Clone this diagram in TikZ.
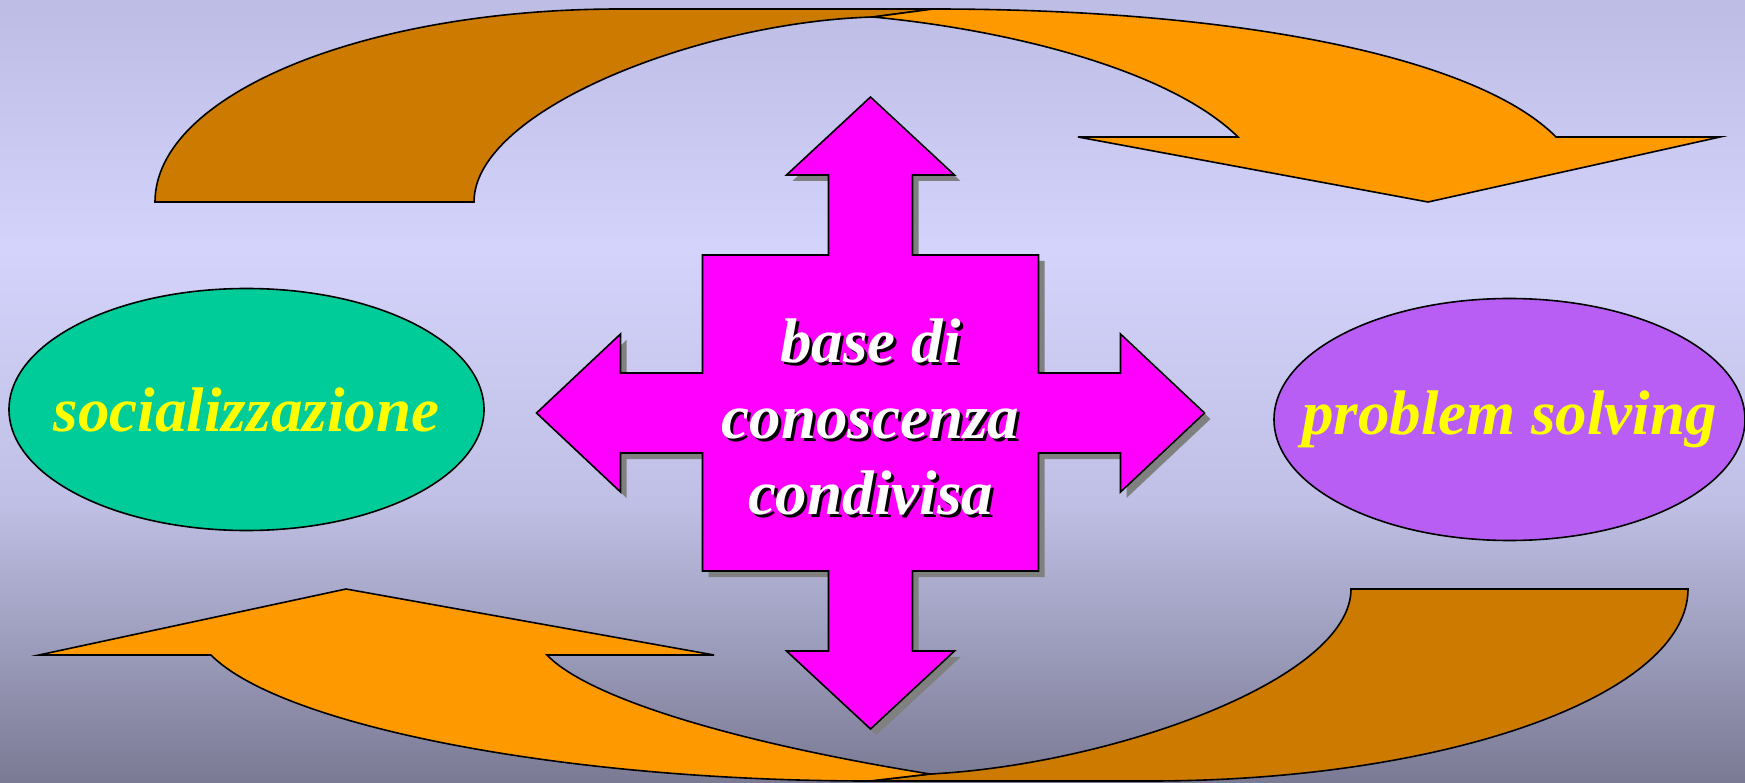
\documentclass[tikz,border=0pt]{standalone}
\usepackage{fontspec}
\setmainfont{Liberation Serif}
\usepackage{tikz}
\usepackage{xcolor}
\usetikzlibrary{shapes.geometric,shadows}

\definecolor{bgtop}{RGB}{188,188,228}
\definecolor{bgmid}{RGB}{211,211,251}
\definecolor{bglow}{RGB}{192,192,230}
\definecolor{bgbot}{RGB}{122,122,148}
\definecolor{darkband}{RGB}{204,122,0}
\definecolor{lightband}{RGB}{255,153,0}
\definecolor{kbmagenta}{RGB}{255,0,255}
\definecolor{kbshadow}{RGB}{128,128,128}
\definecolor{socgreen}{RGB}{0,204,153}
\definecolor{psviolet}{RGB}{185,94,245}
\definecolor{labelyellow}{RGB}{255,255,0}

\newcommand{\bigital}{\fontsize{63}{76}\selectfont\bfseries\itshape}

\begin{document}
\begin{tikzpicture}[x=1pt,y=-1pt,
    band/.style={draw=black,line width=1.6pt},
    bubble/.style={ellipse,draw=black,line width=1.6pt,inner sep=0pt},
    bubbletext/.style={text=labelyellow,font=\bigital},
    kbtext/.style={align=center,font=\bigital}]
            \useasboundingbox (0,0) rectangle (1745,783);
            \shade[top color=bgtop,bottom color=bgmid] (0,0) rectangle (1745,251);
            \shade[top color=bgmid,bottom color=bglow] (0,250) rectangle (1745,501);
            \shade[top color=bglow,bottom color=bgbot] (0,500) rectangle (1745,783);

            % upper curved arrow
            \draw[band,fill=darkband] (155,202) .. controls (155,95) and (363,9) .. (620,9)
                -- (933,9) -- (873,17) .. controls (700,22) and (474,110) .. (474,202) -- cycle;
            \draw[band,fill=lightband] (873,17) -- (933,9) .. controls (1250,9) and (1480,60) .. (1556,137)
                -- (1720,137) -- (1428,202) -- (1078,137) -- (1238,137)
                .. controls (1170,70) and (1010,30) .. (873,17) -- cycle;

            % lower curved arrow
            \draw[band,fill=darkband] (1688,589) .. controls (1688,695) and (1447,781) .. (1150,781)
                -- (870,781) -- (930,774) .. controls (1110,765) and (1351,680) .. (1351,589) -- cycle;
            \draw[band,fill=lightband] (930,774) -- (870,781) .. controls (560,781) and (280,725) .. (211,655)
                -- (39,655) -- (346,589) -- (714,655) -- (547,655)
                .. controls (585,695) and (720,740) .. (930,774) -- cycle;

            % cross
            \begin{scope}[shift={(870.5,413)}]
            \draw[band,fill=kbmagenta,
                drop shadow={shadow xshift=6pt,shadow yshift=-6pt,fill=kbshadow,opacity=1}]
                (0,-316) -- (84,-238) -- (42,-238) -- (42,-158) -- (168,-158) -- (168,-40)
                -- (250,-40) -- (250,-79) -- (334,0) -- (250,79) -- (250,40) -- (168,40)
                -- (168,158) -- (42,158) -- (42,238) -- (84,238) -- (0,316) -- (-84,238)
                -- (-42,238) -- (-42,158) -- (-168,158) -- (-168,40) -- (-250,40) -- (-250,79)
                -- (-334,0) -- (-250,-79) -- (-250,-40) -- (-168,-40) -- (-168,-158)
                -- (-42,-158) -- (-42,-238) -- (-84,-238) -- cycle;
            \end{scope}
            \node[kbtext,text=black] (kbshade) at (873.5,420) {base di\\conoscenza\\condivisa};
            \node[kbtext,text=white] (kb) at (870.5,417) {base di\\conoscenza\\condivisa};

            % ellipses
            \node[bubble,fill=socgreen,minimum width=475,minimum height=242] (soc) at (246.5,409.5) {};
            \node[bubbletext] (soctext) at (soc.center) {socializzazione};
            \node[bubble,fill=psviolet,minimum width=471,minimum height=242] (ps) at (1509.5,419.5) {};
            \node[bubbletext] (pstext) at (ps.center) {problem solving};
\end{tikzpicture}
\end{document}
